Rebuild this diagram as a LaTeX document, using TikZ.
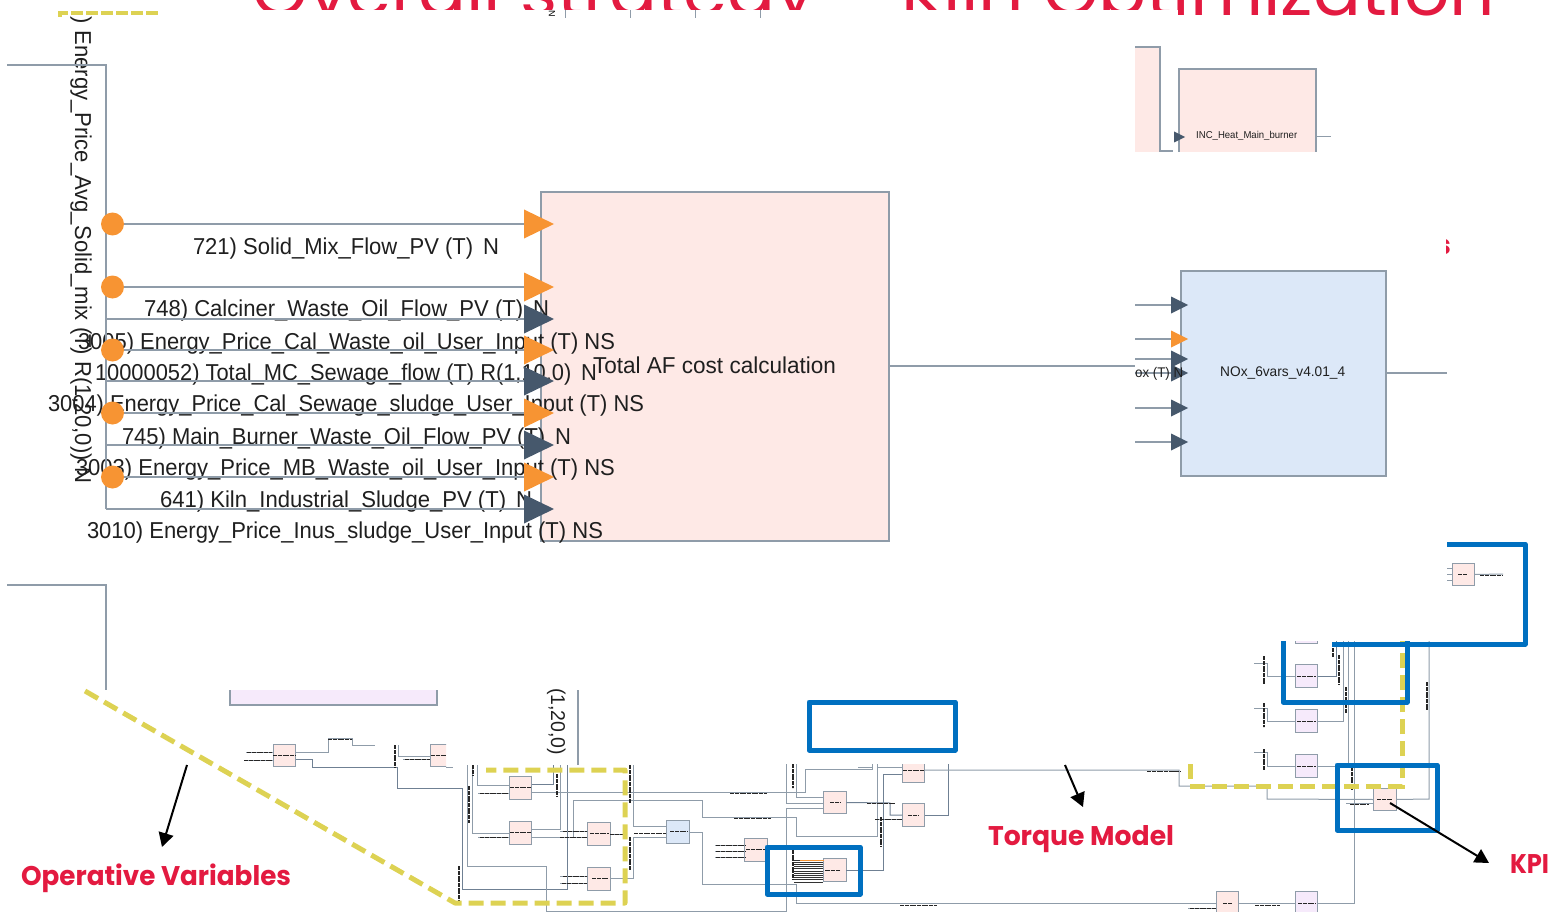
\documentclass[tikz,border=0pt]{standalone}
\usepackage{graphicx}
\usepackage{fontspec}
\setmainfont{Liberation Sans}
\newfontfamily\gothic{Poppins}
\usetikzlibrary{arrows.meta}
\definecolor{wirec}{HTML}{8F9CA9}
\definecolor{darkw}{HTML}{6F8093}
\definecolor{tridark}{HTML}{46586C}
\definecolor{oran}{HTML}{F79433}
\definecolor{pinkb}{HTML}{FEE9E6}
\definecolor{blueb}{HTML}{DCE8F8}
\definecolor{lilac}{HTML}{F6EAFB}
\definecolor{yell}{HTML}{DDD253}
\definecolor{blu}{HTML}{0070C0}
\definecolor{redt}{HTML}{E31A40}
\newcommand\fitw[2]{\resizebox{#1pt}{\height}{#2}}
\newcommand\tritip[5]{\fill[#5] (#1-#3,#2-#4) -- (#1,#2) -- (#1-#3,#2+#4) -- cycle;}
\tikzset{
  x=1pt,y=-1pt,
  mainwire/.style={draw=wirec,line width=2pt},
  wire/.style={draw=wirec,line width=1pt},
  dwire/.style={draw=darkw,line width=1pt},
  mainbox/.style={draw=wirec,line width=2pt,inner sep=0pt,outer sep=0pt,anchor=north west},
  mini/.style={draw=wirec,line width=1.4pt,fill=pinkb,minimum size=22.5pt,inner sep=0pt,outer sep=0pt},
  minib/.style={mini,fill=blueb},
  minil/.style={mini,fill=lilac},
  lbl/.style={inner sep=0pt,outer sep=0pt,anchor=base west,text=black!88,font=\fontsize{23}{23}\selectfont},
  callout/.style={inner sep=0pt,outer sep=0pt,anchor=base west,text=redt,font=\gothic\bfseries\fontsize{27}{27}\selectfont},
  ydash/.style={draw=yell,line width=5pt,dash pattern=on 15pt off 7pt},
  bluebox/.style={draw=blu,line width=5pt,line join=round},
  blackarrow/.style={draw=black,line width=2pt,-{Triangle[length=14pt,width=15pt]}},
  tinyl/.style={draw=black!85,line width=.8pt,dash pattern=on 2pt off .4pt},
}
\begin{document}
\begin{tikzpicture}
\useasboundingbox (0,0) rectangle (1552,912);
\clip (0,0) rectangle (1552,912);

% title, cut by the slide
\begin{scope}
\clip (0,0) -- (1552,0) -- (1552,20) -- (1178,20) -- (1178,10) -- (0,10) -- cycle;
\node (title) [inner sep=0pt,anchor=base west,text=redt,font=\gothic\fontsize{66}{66}\selectfont] at (252,16) {\fitw{1243}{Overall strategy – Kiln Optimization}};
\end{scope}
\draw[ydash,dash pattern=on 12pt off 3pt,line width=4pt] (60,17) -- (60,13) -- (160,13);
\foreach \tx in {565,630,695,760} \draw[wirec,line width=1pt] (\tx,10) -- (\tx,18);
\node (seven) [inner sep=0pt,font=\fontsize{9}{9}\selectfont,rotate=-90] at (552,14) {N};

% main block and its texts
\node (afbox) [mainbox,fill=pinkb,minimum width=348pt,minimum height=349pt] at (541,192) {};
\node (vlbl) [lbl,rotate=-90] at (75,17) {\fitw{466}{) Energy\_Price\_Avg\_Solid\_mix (T) R(1,20,0)) N}};
\node (l1) [lbl] at (193,254) {\fitw{306}{721) Solid\_Mix\_Flow\_PV (T)\, N}};
\node (l2) [lbl] at (144,316) {\fitw{405}{748) Calciner\_Waste\_Oil\_Flow\_PV (T)\, N}};
\node (l3) [lbl] at (78,349) {\fitw{537}{3005) Energy\_Price\_Cal\_Waste\_oil\_User\_Input (T) NS}};
\node (l4) [lbl] at (95,380) {\fitw{502}{10000052) Total\_MC\_Sewage\_flow (T) R(1,10,0)\, N}};
\node (l5) [lbl] at (48,411) {\fitw{596}{3004) Energy\_Price\_Cal\_Sewage\_sludge\_User\_Input (T) NS}};
\node (l6) [lbl] at (122,444) {\fitw{449}{745) Main\_Burner\_Waste\_Oil\_Flow\_PV (T)\, N}};
\node (l7) [lbl] at (76,475) {\fitw{539}{3003) Energy\_Price\_MB\_Waste\_oil\_User\_Input (T) NS}};
\node (l8) [lbl] at (160,507) {\fitw{372}{641) Kiln\_Industrial\_Sludge\_PV (T)\, N}};
\node (l9) [lbl] at (87,538) {\fitw{516}{3010) Energy\_Price\_Inus\_sludge\_User\_Input (T) NS}};
\node (l10) [lbl] at (593,373) {\fitw{243}{Total AF cost calculation}};

% bus and inputs of the main block
\coordinate (bustop0) at (7,65);
\coordinate (bustop) at (106,65);
\coordinate (busend) at (106,509);
\draw[mainwire] (bustop0) -- (bustop) -- (busend);
\coordinate (bus20) at (7,585);
\coordinate (bus21) at (106,585);
\coordinate (bus22) at (106,690);
\draw[mainwire] (bus20) -- (bus21) -- (bus22);
\foreach \yy/\cc in {224/oran,287/oran,319/tridark,350/oran,381/tridark,413/oran,445/tridark,477/oran,509/tridark}{
  \coordinate (in\yy) at (541,\yy);
  \draw[mainwire] (bustop |- in\yy) -- (in\yy);
}
\foreach \yy/\cc in {224/oran,287/oran,319/tridark,350/oran,381/tridark,413/oran,445/tridark,477/oran,509/tridark}{
  \tritip{554}{\yy}{30}{14.5}{\cc}
}
\foreach \yy in {224,287,350,413,477}{
  \node (dot\yy) [circle,fill=oran,minimum size=23pt,inner sep=0pt] at (112.5,\yy) {};
}
\coordinate (afout) at (1135,366);
\draw[mainwire,line width=1.6pt] (afbox.east |- afout) -- (afout);

% top right fragment
\fill[pinkb] (1135,47) rectangle (1160,152);
\draw[wire,line width=1.4pt] (1135,47) -- (1160,47) -- (1160,151) -- (1173,151);
\fill[pinkb] (1179,69) rectangle (1316,152);
\draw[wire,line width=1.6pt] (1179,152) -- (1179,69) -- (1316,69) -- (1316,152);
\node (inc) [inner sep=0pt,anchor=base west,text=black!88,font=\fontsize{10}{10}\selectfont] at (1196,139) {\fitw{101}{INC\_Heat\_Main\_burner}};
\draw[wire] (1316,137) -- (1331,137);
\tritip{1185}{137}{11}{5.5}{tridark}

% NOx block
\node (nox) [mainbox,fill=blueb,minimum width=205pt,minimum height=205pt] at (1181,271) {};
\node (noxt) [inner sep=0pt,anchor=base west,text=black!88,font=\fontsize{14}{14}\selectfont] at (1220,376) {\fitw{125}{NOx\_6vars\_v4.01\_4}};
\foreach \yy/\cc in {305/tridark,339/oran,359/tridark,373/tridark,408/tridark,442/tridark}{
  \coordinate (nin\yy) at (1181,\yy);
  \coordinate (nst\yy) at (1135,\yy);
  \draw[mainwire,line width=1.6pt] (nst\yy) -- (nin\yy);
  \tritip{1188}{\yy}{17}{8.5}{\cc}
}
\node (oxt) [inner sep=0pt,anchor=base west,text=black!88,font=\fontsize{14}{14}\selectfont] at (1135,377) {\fitw{48}{ox (T) N}};
\coordinate (noxout) at (1447,373);
\draw[mainwire,line width=1.6pt] (nox.east |- noxout) -- (noxout);
\begin{scope}
\clip (1446,230) rectangle (1451,260);
\node (frag) [callout,anchor=base east] at (1451,254) {s};
\end{scope}

% lilac fragment
\fill[lilac] (230,690) rectangle (437,705);
\draw[wire,line width=1.3pt] (230,690) -- (230,705) -- (437,705) -- (437,690);
\node (tv) [inner sep=0pt,anchor=base west,rotate=-90,text=black!88,font=\fontsize{20}{20}\selectfont] at (551,688) {\fitw{67}{(1,20,0)}};
\coordinate (v20a) at (578,690);
\coordinate (v20b) at (578,765);
\draw[wire,line width=1.3pt] (v20a) -- (v20b);

% small overview blocks
\node (A1) [mini] at (284.5,755.5) {};
\begin{scope}\clip (400,730) rectangle (446,780);
\node (A2) [mini] at (442,755.5) {};
\end{scope}
\node (B1) [mini] at (520.5,788) {};
\node (B2) [mini] at (520.5,833) {};
\node (B3) [mini] at (599,834) {};
\node (B4) [mini] at (599,879) {};
\node (G1) [minib] at (678,832) {};
\node (C1) [mini] at (756,850) {};
\node (C2) [mini] at (835,870) {};
\node (C3) [mini] at (835,802.5) {};
\node (C4) [mini] at (913.5,815) {};
\begin{scope}\clip (890,764) rectangle (935,800);
\node (C5) [mini] at (913.5,771) {};
\end{scope}
\node (D1) [mini] at (1463.5,574.5) {};
\begin{scope}\clip (1280,641) rectangle (1330,660);
\node (P1) [minil] at (1306.5,632) {};
\end{scope}
\node (P2) [minil] at (1306.5,676) {};
\node (P3) [minil] at (1306.5,721) {};
\node (P4) [minil] at (1306.5,766) {};
\node (K1) [mini] at (1385,799.5) {};
\node (E1) [mini] at (1227.5,903) {};
\node (P5) [minil] at (1306.5,903) {};

% wires of the overview
\draw[wire] (A1.east |- 0,752) -- (328,752) -- (328,738) -- (352,738) -- (352,745) -- (375,745);
\draw[dwire] (A1.east |- 0,759) -- (312,759) -- (312,767) -- (397,767) -- (397,788) -- (462,788) -- (462,889) -- (567,889) -- (567,765);
\draw[wire] (246,752) -- (A1.west |- 0,752);
\draw[wire] (244,760) -- (A1.west |- 0,760);
\draw[wire] (398,745) -- (398,756) -- (A2.west |- 0,756);
\draw[wire] (403,759) -- (A2.west |- 0,759);
\draw[wire] (446,767) -- (453,767);
\draw[wire] (467,765) -- (467,866) -- (546,866) -- (546,911) -- (786,911) -- (786,808) -- (C3.west |- 0,808);
\draw[wire] (472,765) -- (472,833) -- (B2.west);
\draw[wire] (477,765) -- (477,785) -- (B1.west |- 0,785);
\draw[dwire] (B1.east |- 0,784) -- (553,784) -- (553,765);
\draw[wire] (B1.east |- 0,792) -- (805,792) -- (805,769) -- (872,769) -- (872,764);
\draw[wire] (858,767) -- (872,767);
\draw[wire] (B3.west |- 0,837) -- (573,837) -- (573,800) -- (702,800) -- (702,817) -- (796,817) -- (796,836) -- (877,836) -- (877,764);
\draw[wire] (B2.east |- 0,829) -- (560,829) -- (560,765);
\draw[wire] (B2.east |- 0,837) -- (B3.west |- 0,837);
\draw[wire] (560,831) -- (B3.west |- 0,831);
\draw[wire] (478,793) -- (B1.west |- 0,793);
\draw[wire] (478,837) -- (B2.west |- 0,837);
\draw[wire] (560,876) -- (B4.west |- 0,876);
\draw[wire] (560,883) -- (B4.west |- 0,883);
\draw[wire] (633,765) -- (633,826) -- (G1.west |- 0,826);
\draw[dwire] (B3.east) -- (625,834);
\draw[wire] (B4.east |- 0,878) -- (633,878) -- (633,837) -- (G1.west |- 0,837);
\draw[wire] (G1.east) -- (702,832) -- (702,884) -- (796,884) -- (796,903) -- (E1.west |- 0,903);
\draw[wire] (715,845) -- (C1.west |- 0,845);
\draw[wire] (715,851) -- (C1.west |- 0,851);
\draw[wire] (715,857) -- (C1.west |- 0,857);
\draw[wire] (796,764) -- (796,797) -- (C3.west |- 0,797);
\draw[wire] (786,764) -- (786,803) -- (C3.west |- 0,803);
\draw[dwire] (C3.east) -- (890,803) -- (890,815) -- (C4.west);
\draw[wire] (875,819) -- (C4.west |- 0,819);
\draw[dwire] (C4.east) -- (948,815) -- (948,764);
\draw[dwire] (C2.east) -- (883,870) -- (883,774) -- (C5.west |- 0,774);
\draw[wire] (877,767) -- (C5.west |- 0,767);
\draw[wire] (C5.east |- 0,770) -- (1179,770) -- (1179,786) -- (1267,786) -- (1267,799) -- (K1.west);
\draw[wire] (K1.east) -- (1429,799) -- (1429,641);
\draw[wire] (1346,803) -- (K1.west |- 0,803);
\draw[wire] (1254,663) -- (1267,663) -- (1267,676) -- (P2.west);
\draw[dwire] (P2.east) -- (1336,676) -- (1336,641);
\draw[wire] (1254,708) -- (1267,708) -- (1267,721) -- (P3.west);
\draw[wire] (P3.east) -- (1343,721) -- (1343,641);
\draw[wire] (1254,752) -- (1267,752) -- (1267,766) -- (P4.west);
\draw[wire] (P4.east) -- (1348,766) -- (1348,641);
\draw[wire] (E1.east) -- (P5.west);
\draw[wire] (P5.east) -- (1354,903) -- (1354,641);
\draw[wire] (1188,908) -- (E1.west |- 0,908);
\draw[wire] (1447,568) -- (D1.west |- 0,568);
\draw[wire] (1447,574) -- (D1.west |- 0,574);
\draw[wire] (1447,580) -- (D1.west |- 0,580);
\draw[wire] (D1.east) -- (1503,574);

% illegibly small labels of the overview
\foreach \xa/\xb/\yy in {247/272/752,244/272/760,405/430/759,328/352/739,273/296/755,431/446/755,480/508/793,480/508/837,510/531/787,510/531/832,563/587/831,560/587/837,563/587/876,562/587/883,590/609/833,592/608/878,610/625/834,634/666/833,670/687/831,716/745/845,716/745/851,716/745/857,746/766/849,730/767/793,734/771/818,867/895/803,875/902/819,900/937/905,830/840/802,908/918/815,903/924/770,1147/1178/771,1480/1503/575,1458/1467/574,1350/1369/804,1377/1392/799,1297/1316/676,1297/1316/721,1297/1316/766,1190/1216/908,1255/1280/905,1223/1232/903,1298/1315/903,1170/1180/771}{
  \draw[tinyl] (\xa,\yy) -- (\xb,\yy);
}
\foreach \xx/\ya/\yb in {395/745/767,473/765/775,469/786/823,459/866/900,557/774/797,630/765/803,630/837/870,793/764/788,793/845/880,881/817/847,1264/656/684,1264/703/727,1264/749/770,1339/655/685,1333/648/657,1346/687/713,1427/682/710,1352/767/790}{
  \draw[tinyl,line width=1.1pt] (\xx,\ya) -- (\xx,\yb);
}
\foreach \yy in {860,862.2,...,882}{
  \draw[draw=black!80,line width=1pt] (794,\yy) -- (823,\yy);
}
\draw[oran,line width=.8pt] (800,860) -- (824,860);
\draw[tinyl] (840,870) -- (825,870);

% dashed yellow groups
\draw[ydash,line join=round] (85,691) -- (455,903) -- (625,903) -- (625,770) -- (486,770);
\draw[ydash] (1190,764) -- (1190,780);
\draw[ydash] (1190,786) -- (1402,786) -- (1402,641);

% blue groups
\draw[bluebox] (809,702) rectangle (955,750);
\draw[bluebox] (767,847) rectangle (860,894);
\draw[bluebox] (1283,641) -- (1283,702) -- (1407,702) -- (1407,641);
\draw[bluebox] (1447,544) -- (1525,544) -- (1525,644) -- (1332,644);
\draw[bluebox] (1337,765) rectangle (1437,830);

% call-outs
\coordinate (a1s) at (187,765);
\coordinate (a1e) at (162,847);
\draw[blackarrow] (a1s) -- (a1e);
\coordinate (a2s) at (1065,765);
\coordinate (a2e) at (1083,807);
\draw[blackarrow] (a2s) -- (a2e);
\coordinate (a3s) at (1390,803);
\coordinate (a3e) at (1489,863);
\draw[blackarrow] (a3s) -- (a3e);
\node (opv) [callout] at (21,885) {\fitw{270}{Operative Variables}};
\node (tqm) [callout] at (988,845) {\fitw{186}{Torque Model}};
\node (kpi) [callout] at (1510,873) {\fitw{39}{KPI}};
\end{tikzpicture}
\end{document}
